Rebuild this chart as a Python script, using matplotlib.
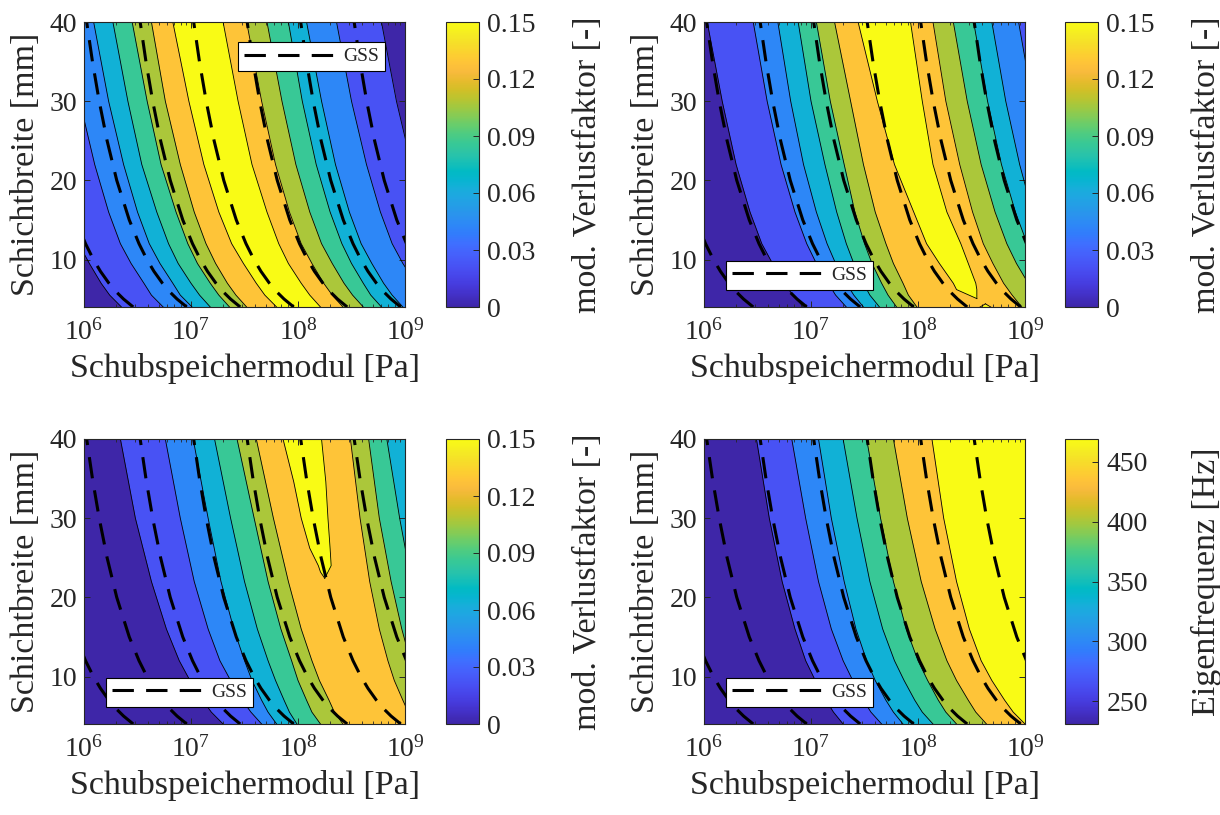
import numpy as np
import matplotlib
matplotlib.use("Agg")
import matplotlib.pyplot as plt
from matplotlib.colors import LinearSegmentedColormap, Normalize
from matplotlib.cm import ScalarMappable
from matplotlib.lines import Line2D

plt.rcParams['font.family'] = ['Liberation Serif', 'DejaVu Serif']
plt.rcParams['mathtext.fontset'] = 'custom'
plt.rcParams['mathtext.rm'] = 'Liberation Serif'
plt.rcParams['mathtext.it'] = 'Liberation Serif:italic'
plt.rcParams['mathtext.bf'] = 'Liberation Serif:bold'
for key in ['text.color', 'axes.labelcolor', 'xtick.color', 'ytick.color', 'axes.edgecolor']:
    plt.rcParams[key] = '#262626'

# ---------------- data ----------------
# rows of Schichtbreite [mm] at which the band edges were read
width_rows = [4, 5.5, 7, 9.5, 12, 16, 22, 30, 40]

# band edges as log10(Schubspeichermodul / Pa); rising edge = lower bound of band k,
# falling edge = where band k ends again on the stiff side

# top left: mod. Verlustfaktor
a_rise = [
    [6.35, 6.24, 6.16, 6.05, 5.95, 5.83, 5.70, 5.56, 5.42],
    [6.74, 6.63, 6.56, 6.44, 6.34, 6.23, 6.10, 5.96, 5.82],
    [7.01, 6.90, 6.83, 6.71, 6.61, 6.50, 6.37, 6.23, 6.09],
    [7.18, 7.08, 7.00, 6.88, 6.79, 6.68, 6.54, 6.41, 6.27],
    [7.36, 7.26, 7.18, 7.06, 6.97, 6.86, 6.72, 6.59, 6.45],
    [7.52, 7.42, 7.34, 7.23, 7.14, 7.03, 6.90, 6.76, 6.63],
    [7.80, 7.69, 7.61, 7.49, 7.38, 7.26, 7.12, 6.98, 6.83],
]
a_fall = [
    [9.70, 9.59, 9.52, 9.40, 9.30, 9.19, 9.06, 8.92, 8.78],
    [9.28, 9.17, 9.10, 8.98, 8.88, 8.77, 8.64, 8.50, 8.36],
    [8.98, 8.88, 8.80, 8.69, 8.59, 8.48, 8.35, 8.22, 8.08],
    [8.78, 8.68, 8.61, 8.50, 8.41, 8.30, 8.17, 8.04, 7.91],
    [8.61, 8.51, 8.43, 8.32, 8.22, 8.11, 7.98, 7.85, 7.71],
    [8.42, 8.32, 8.24, 8.13, 8.03, 7.92, 7.79, 7.66, 7.52],
    [8.21, 8.11, 8.03, 7.91, 7.82, 7.71, 7.57, 7.44, 7.30],
]

# top right: mod. Verlustfaktor
b_rise = [
    [6.93, 6.83, 6.75, 6.64, 6.54, 6.43, 6.30, 6.17, 6.03],
    [7.33, 7.23, 7.16, 7.05, 6.96, 6.85, 6.72, 6.59, 6.46],
    [7.49, 7.40, 7.33, 7.23, 7.15, 7.05, 6.93, 6.81, 6.69],
    [7.64, 7.55, 7.49, 7.40, 7.33, 7.24, 7.13, 7.00, 6.88],
    [7.80, 7.72, 7.66, 7.57, 7.50, 7.41, 7.31, 7.18, 7.05],
    [7.99, 7.91, 7.86, 7.77, 7.70, 7.60, 7.49, 7.37, 7.22],
]
b_fall = [
    [10.30, 10.20, 10.12, 10.01, 9.91, 9.80, 9.67, 9.54, 9.40],
    [9.80, 9.70, 9.63, 9.52, 9.43, 9.32, 9.20, 9.07, 8.94],
    [9.55, 9.45, 9.38, 9.27, 9.18, 9.07, 8.95, 8.82, 8.69],
    [9.40, 9.30, 9.22, 9.11, 9.02, 8.91, 8.78, 8.65, 8.52],
    [9.20, 9.10, 9.03, 8.92, 8.83, 8.72, 8.59, 8.46, 8.33],
    [8.97, 8.88, 8.80, 8.70, 8.61, 8.51, 8.39, 8.26, 8.14],
]
b_peak_w = [5.06, 6.2, 7, 9.5, 12, 16, 22, 30, 40]
b_peak_left = [8.55, 8.36, 8.33, 8.20, 8.08, 7.96, 7.78, 7.62, 7.44]
b_peak_right = [8.55, 8.55, 8.54, 8.47, 8.40, 8.27, 8.14, 8.04, 7.93]
b_blip_w = [4, 4.4]
b_blip_left = [8.58, 8.63]
b_blip_right = [8.68, 8.63]

# bottom left: mod. Verlustfaktor
c_rise = [
    [7.30, 7.19, 7.11, 6.99, 6.89, 6.77, 6.63, 6.48, 6.34],
    [7.66, 7.56, 7.48, 7.37, 7.27, 7.16, 7.03, 6.90, 6.76],
    [7.80, 7.72, 7.66, 7.57, 7.50, 7.40, 7.28, 7.16, 7.02],
    [7.99, 7.92, 7.87, 7.79, 7.72, 7.62, 7.50, 7.37, 7.22],
    [8.21, 8.13, 8.08, 8.00, 7.94, 7.84, 7.72, 7.59, 7.43],
    [8.42, 8.34, 8.29, 8.20, 8.13, 8.03, 7.91, 7.77, 7.61],
]
c_fall = [
    [10.50, 10.42, 10.36, 10.27, 10.20, 10.11, 10.01, 9.91, 9.80],
    [10.20, 10.12, 10.06, 9.97, 9.90, 9.81, 9.71, 9.61, 9.50],
    [9.90, 9.81, 9.75, 9.66, 9.58, 9.48, 9.38, 9.26, 9.15],
    [9.60, 9.51, 9.45, 9.35, 9.27, 9.17, 9.06, 8.95, 8.83],
    [9.35, 9.27, 9.21, 9.13, 9.05, 8.97, 8.87, 8.76, 8.66],
    [9.10, 9.03, 8.98, 8.90, 8.84, 8.76, 8.67, 8.58, 8.49],
]
c_peak_w = [22.4, 23.2, 24, 26.2, 30, 34.6, 40]
c_peak_left = [8.25, 8.21, 8.19, 8.11, 8.03, 7.96, 7.86]
c_peak_right = [8.25, 8.28, 8.31, 8.30, 8.28, 8.26, 8.22]

# bottom right: Eigenfrequenz (monotonic, bands run out at the right edge)
d_rise = [
    [7.30, 7.21, 7.14, 7.04, 6.95, 6.85, 6.73, 6.61, 6.49],
    [7.66, 7.56, 7.49, 7.39, 7.30, 7.19, 7.07, 6.95, 6.82],
    [7.86, 7.77, 7.70, 7.60, 7.52, 7.42, 7.31, 7.19, 7.07],
    [8.14, 8.04, 7.97, 7.87, 7.78, 7.67, 7.55, 7.43, 7.30],
    [8.36, 8.26, 8.19, 8.09, 8.00, 7.89, 7.77, 7.65, 7.52],
    [8.64, 8.54, 8.47, 8.36, 8.27, 8.16, 8.03, 7.90, 7.77],
    [9.00, 8.89, 8.81, 8.69, 8.59, 8.48, 8.36, 8.24, 8.13],
]

# GSS iso-lines (identical in all four panels): position at 4 mm and leftward drift with width
gss_bottom = [6.46, 6.96, 7.46, 7.96, 8.46, 8.96, 9.46]
gss_rows = [4, 5, 6, 7, 8.5, 10, 12, 15, 20, 25, 30, 35, 40]
gss_drift = [0, 0.09, 0.165, 0.227, 0.306, 0.372, 0.446, 0.537, 0.654, 0.744, 0.818, 0.881, 0.935]

loss_range = (0, 0.15)
loss_ticks = [0, 0.03, 0.06, 0.09, 0.12, 0.15]
freq_range = (231, 469)
freq_ticks = [250, 300, 350, 400, 450]
x_tick_exp = [6, 7, 8, 9]
y_ticks = [10, 20, 30, 40]

# ---------------- styling ----------------
parula_table = [
    (0, (0.2422, 0.1504, 0.6603)), (2, (0.2578, 0.1818, 0.7511)), (4, (0.2706, 0.2147, 0.8364)),
    (6, (0.2783, 0.2559, 0.8991)), (8, (0.2813, 0.3006, 0.9414)), (10, (0.2795, 0.3447, 0.9717)),
    (12, (0.2699, 0.3892, 0.9906)), (14, (0.2440, 0.4358, 0.9988)), (16, (0.1963, 0.4847, 0.9892)),
    (18, (0.1786, 0.5289, 0.9682)), (20, (0.1687, 0.5703, 0.9359)), (22, (0.1460, 0.6091, 0.9079)),
    (24, (0.1248, 0.6459, 0.8883)), (26, (0.0952, 0.6798, 0.8598)), (28, (0.0297, 0.7082, 0.8163)),
    (30, (0.0067, 0.7312, 0.7660)), (32, (0.0964, 0.7500, 0.7120)), (34, (0.1717, 0.7670, 0.6554)),
    (36, (0.2161, 0.7843, 0.5923)), (38, (0.2906, 0.7973, 0.5188)), (40, (0.3909, 0.8029, 0.4354)),
    (42, (0.5044, 0.7993, 0.3480)), (44, (0.6174, 0.7876, 0.2612)), (46, (0.7242, 0.7698, 0.1910)),
    (48, (0.8203, 0.7498, 0.1535)), (50, (0.9035, 0.7330, 0.1774)), (52, (0.9728, 0.7298, 0.2394)),
    (54, (0.9970, 0.7659, 0.2199)), (56, (0.9892, 0.8136, 0.1885)), (58, (0.9676, 0.8639, 0.1643)),
    (60, (0.9597, 0.9135, 0.1423)), (62, (0.9691, 0.9606, 0.1064)), (63, (0.9769, 0.9839, 0.0805)),
]
parula = LinearSegmentedColormap.from_list('parula', [(i / 63, c) for i, c in parula_table])
band_colors = [parula(k / 7) for k in range(8)]

gss_dash = (7, 4)
W, H = 1220, 815
fig = plt.figure(figsize=(W / 100, H / 100), dpi=100)


def px_axes(x0, y0, w, h):
    return fig.add_axes([x0 / W, 1 - (y0 + h) / H, w / W, h / H])


def draw_panel(ax, rises, falls, extra=()):
    ax.set_xscale('log')
    ax.set_xlim(10.0 ** x_tick_exp[0], 10.0 ** x_tick_exp[-1])
    ax.set_ylim(4, 40)
    ax.set_facecolor(band_colors[0])
    x_end = 10.0 ** (x_tick_exp[-1] + 1)
    edges = []
    for k, left in enumerate(rises, start=1):
        xl = 10.0 ** np.asarray(left)
        if falls is None:
            xr = np.full_like(xl, x_end)
        else:
            xr = 10.0 ** np.asarray(falls[k - 1])
            edges.append((xr, width_rows))
        ax.fill_betweenx(width_rows, xl, xr, color=band_colors[k], lw=0)
        edges.append((xl, width_rows))
    for rows, left, right in extra:
        xl, xr = 10.0 ** np.asarray(left), 10.0 ** np.asarray(right)
        ax.fill_betweenx(rows, xl, xr, color=band_colors[7], lw=0)
        edges += [(xl, rows), (xr, rows)]
    for xs, ys in edges:
        ax.plot(xs, ys, color='k', lw=0.6)
    for b in gss_bottom:
        ax.plot(10.0 ** (b - np.asarray(gss_drift)), gss_rows, color='k', lw=2.2, dashes=gss_dash)

    ax.set_xticks([10.0 ** e for e in x_tick_exp])
    ax.set_xticklabels([r'$\mathregular{10^{%d}}$' % e for e in x_tick_exp], fontsize=20)
    ax.set_yticks(y_ticks)
    ax.set_yticklabels([str(t) for t in y_ticks], fontsize=20)
    ax.tick_params(which='both', direction='in', top=True, right=True)
    ax.tick_params(which='major', length=4, width=0.7)
    ax.tick_params(which='minor', length=2, width=0.6)
    ax.tick_params(axis='x', which='major', pad=9)
    ax.tick_params(axis='y', which='major', pad=5)
    for s in ax.spines.values():
        s.set_linewidth(0.8)
    ax.set_xlabel('Schubspeichermodul [Pa]', fontsize=24.5, labelpad=5)
    ax.set_ylabel('Schichtbreite [mm]', fontsize=24.5, labelpad=6)


def add_legend(ax, loc, anchor):
    handle = Line2D([], [], color='k', lw=2.2, dashes=gss_dash)
    leg = ax.legend([handle], ['GSS'], loc=loc, bbox_to_anchor=anchor, fontsize=14,
                    handlelength=4.7, handletextpad=0.4, borderpad=0.3, borderaxespad=0,
                    fancybox=False, framealpha=1, edgecolor='k')
    leg.get_frame().set_linewidth(0.8)


def add_colorbar(x0, y0, vrange, ticks, label):
    cax = px_axes(x0, y0, 33, 285)
    cb = fig.colorbar(ScalarMappable(norm=Normalize(*vrange), cmap=parula), cax=cax)
    cb.set_ticks(ticks)
    cb.set_ticklabels(['%g' % t for t in ticks])
    cb.ax.tick_params(direction='in', length=4, width=0.7, labelsize=20, pad=6)
    cb.outline.set_linewidth(0.8)
    cb.set_label(label, fontsize=24.5)
    cb.ax.yaxis.set_label_coords(3.82, 0.5)


ax1 = px_axes(84, 22, 321, 285)
draw_panel(ax1, a_rise, a_fall)
add_legend(ax1, 'upper right', (0.938, 0.93))
add_colorbar(446, 22, loss_range, loss_ticks, 'mod. Verlustfaktor [-]')

ax2 = px_axes(704, 22, 321, 285)
draw_panel(ax2, b_rise, b_fall,
           extra=[(b_peak_w, b_peak_left, b_peak_right), (b_blip_w, b_blip_left, b_blip_right)])
add_legend(ax2, 'lower left', (0.0685, 0.06))
add_colorbar(1065, 22, loss_range, loss_ticks, 'mod. Verlustfaktor [-]')

ax3 = px_axes(84, 439, 321, 285)
draw_panel(ax3, c_rise, c_fall, extra=[(c_peak_w, c_peak_left, c_peak_right)])
add_legend(ax3, 'lower left', (0.0685, 0.06))
add_colorbar(446, 439, loss_range, loss_ticks, 'mod. Verlustfaktor [-]')

ax4 = px_axes(704, 439, 321, 285)
draw_panel(ax4, d_rise, None)
add_legend(ax4, 'lower left', (0.0685, 0.06))
add_colorbar(1065, 439, freq_range, freq_ticks, 'Eigenfrequenz [Hz]')

fig.savefig('out.png', dpi=100)
